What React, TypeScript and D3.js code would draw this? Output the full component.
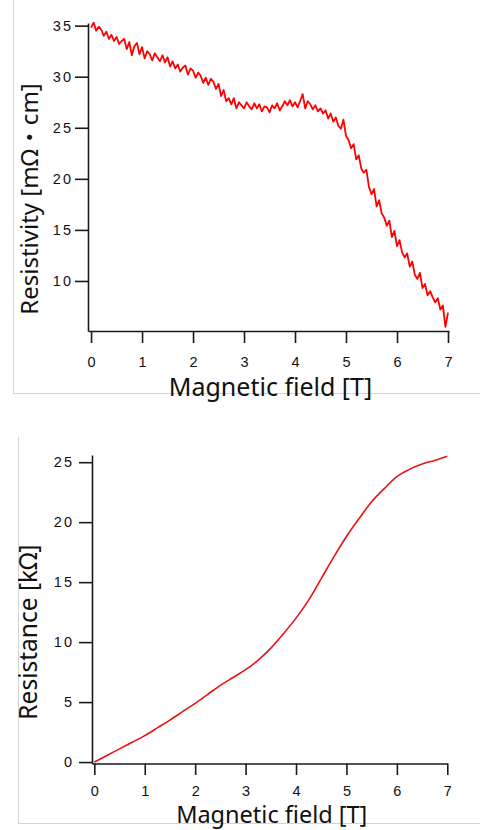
import React, { useEffect, useRef } from 'react';
import * as d3 from 'd3';

// top panel: resistivity vs field, sampled every 0.05 T (noisy trace)
const fieldStep = 0.05;
const resistivity = [
  34.8, 35.3, 34.5, 34.9, 34.6, 34.0, 34.4, 33.7, 34.1, 33.5,
  33.9, 33.2, 33.5, 33.7, 32.7, 33.4, 32.1, 33.0, 33.3, 32.2,
  32.9, 31.8, 32.5, 32.2, 31.6, 32.3, 31.9, 31.5, 32.1, 31.4,
  31.9, 31.0, 31.5, 30.8, 31.2, 30.5, 30.9, 31.1, 30.2, 30.8,
  30.6, 29.9, 30.4, 30.1, 29.4, 29.9, 29.2, 29.8, 29.5, 28.8,
  29.3, 28.1, 28.7, 27.6, 27.9, 27.3, 27.9, 26.9, 27.5, 27.2,
  26.9, 27.5, 27.1, 26.8, 27.4, 26.9, 27.3, 26.6, 27.1, 27.0,
  26.5, 27.2, 26.9, 27.4, 26.7, 27.1, 27.6, 27.2, 27.7, 27.1,
  27.5, 27.0, 27.6, 28.3, 26.9, 27.6, 27.3, 26.8, 27.2, 26.6,
  26.9, 26.4, 26.7, 25.9, 26.4, 25.6, 26.0, 25.2, 24.9, 25.8,
  24.2, 23.8, 23.0, 23.4, 21.9, 22.3, 21.0, 20.6, 20.9, 19.2,
  18.5, 19.0, 17.3, 17.9, 16.6, 16.2, 15.4, 15.9, 14.3, 14.9,
  13.4, 14.0, 12.8, 12.3, 12.7, 11.4, 11.9, 10.6, 10.2, 10.8,
  9.3, 9.7, 8.6, 9.0, 8.4, 7.9, 8.3, 7.2, 7.6, 5.5,
  6.9,
];

// bottom panel: resistance vs field
const fieldB = [0, 0.25, 0.5, 0.75, 1, 1.25, 1.5, 1.75, 2, 2.25, 2.5, 2.75, 3, 3.25, 3.5, 3.75, 4, 4.25, 4.5, 4.75, 5, 5.25, 5.5, 5.75, 6, 6.25, 6.5, 6.75, 7];
const resistance = [0, 0.55, 1.1, 1.65, 2.2, 2.85, 3.5, 4.2, 4.9, 5.65, 6.4, 7.05, 7.7, 8.5, 9.5, 10.7, 12.0, 13.5, 15.3, 17.1, 18.8, 20.3, 21.7, 22.8, 23.8, 24.4, 24.85, 25.15, 25.5];

const xTicks = [0, 1, 2, 3, 4, 5, 6, 7];
const yTicksTop = [10, 15, 20, 25, 30, 35];
const yTicksBottom = [0, 5, 10, 15, 20, 25];

const xTitle = 'Magnetic field [T]';
const yTitleTop = 'Resistivity [mΩ・cm]';
const yTitleBottom = 'Resistance [kΩ]';

const width = 480;
const height = 830;
const tickFont = '"Liberation Sans", Arial, sans-serif';
const titleFont = '"Noto Sans", "Noto Sans CJK JP", sans-serif';

function App() {
  const svgRef = useRef<SVGSVGElement>(null);

  useEffect(() => {
    const svg = d3.select(svgRef.current);
    svg.selectAll('*').remove();

    const panels = [
      {
        data: resistivity.map((v, i) => [i * fieldStep, v] as [number, number]),
        x: d3.scaleLinear().domain([-0.06, 7.02]).range([88, 449]),
        y: d3.scaleLinear().domain([5.1, 35.26]).range([331, 23]),
        yTicks: yTicksTop,
        yTitle: yTitleTop,
        frame: { left: 13.5, top: 0, bottom: 393.5 },
        xTickSize: 12, xPad: 14,
        yTickSize: 13, yPad: 2,
        xTitleY: 396, xTitleSize: 25, yTitleX: 38, yTitleMid: 199,
        yTitleSize: 24,
        curve: d3.curveLinear,
        stroke: '#ff0000',
        strokeWidth: 1.8,
      },
      {
        data: fieldB.map((b, i) => [b, resistance[i]] as [number, number]),
        x: d3.scaleLinear().domain([-0.046, 7.004]).range([92, 447.5]),
        y: d3.scaleLinear().domain([-0.12, 25.6]).range([763.5, 455]),
        yTicks: yTicksBottom,
        yTitle: yTitleBottom,
        frame: { left: 18.5, top: 437, bottom: 823.5 },
        xTickSize: 11.5, xPad: 10.5,
        yTickSize: 13, yPad: 5,
        xTitleY: 823, xTitleSize: 23.5, yTitleX: 36.5, yTitleMid: 632,
        yTitleSize: 24.5,
        curve: d3.curveMonotoneX,
        stroke: '#ee1111',
        strokeWidth: 1.6,
      },
    ];

    panels.forEach(p => {
      const g = svg.append('g');
      const [x0, x1] = p.x.range();
      const [yb] = p.y.range();

      // slide frame
      g.append('line')
        .attr('x1', p.frame.left).attr('x2', p.frame.left)
        .attr('y1', p.frame.top).attr('y2', p.frame.bottom)
        .attr('stroke', '#d4d4d4');
      g.append('line')
        .attr('x1', p.frame.left).attr('x2', width)
        .attr('y1', p.frame.bottom).attr('y2', p.frame.bottom)
        .attr('stroke', '#d4d4d4');

      // data
      const line = d3.line<[number, number]>()
        .x(d => p.x(d[0]))
        .y(d => p.y(d[1]))
        .curve(p.curve);
      g.append('path')
        .datum(p.data)
        .attr('d', line)
        .attr('fill', 'none')
        .attr('stroke', p.stroke)
        .attr('stroke-width', p.strokeWidth)
        .attr('stroke-linejoin', 'round');

      // axes
      const xAxis = d3.axisBottom(p.x)
        .tickValues(xTicks)
        .tickSize(p.xTickSize)
        .tickSizeOuter(0)
        .tickPadding(p.xPad)
        .tickFormat(d3.format('d'));
      const gx = g.append('g')
        .attr('transform', `translate(0,${yb})`)
        .call(xAxis);

      const yAxis = d3.axisLeft(p.y)
        .tickValues(p.yTicks)
        .tickSize(p.yTickSize)
        .tickSizeOuter(0)
        .tickPadding(p.yPad)
        .tickFormat(d3.format('d'));
      const gy = g.append('g')
        .attr('transform', `translate(${x0},0)`)
        .call(yAxis);

      [gx, gy].forEach(a => {
        a.select('.domain').attr('stroke', '#1a1a1a').attr('stroke-width', 1.6);
        a.selectAll('.tick line').attr('stroke', '#1a1a1a').attr('stroke-width', 1.6);
        a.selectAll('.tick text')
          .attr('fill', '#111')
          .style('font-family', tickFont)
          .style('font-size', '14.5px')
          .style('letter-spacing', '2px');
      });
      gx.selectAll('.tick text').attr('dx', '1');

      // titles
      g.append('text')
        .attr('x', (x0 + x1) / 2 + 2)
        .attr('y', p.xTitleY)
        .attr('text-anchor', 'middle')
        .attr('fill', '#111')
        .style('font-family', titleFont)
        .style('font-size', `${p.xTitleSize}px`)
        .text(xTitle);
      g.append('text')
        .attr('transform', `translate(${p.yTitleX},${p.yTitleMid}) rotate(-90)`)
        .attr('text-anchor', 'middle')
        .attr('fill', '#111')
        .style('font-family', titleFont)
        .style('font-size', `${p.yTitleSize}px`)
        .text(p.yTitle);
    });
  }, []);

  return (
    <svg
      ref={svgRef}
      width={width}
      height={height}
      style={{ position: 'absolute', left: 0, top: 0, background: '#fff' }}
    />
  );
}

export default App;
